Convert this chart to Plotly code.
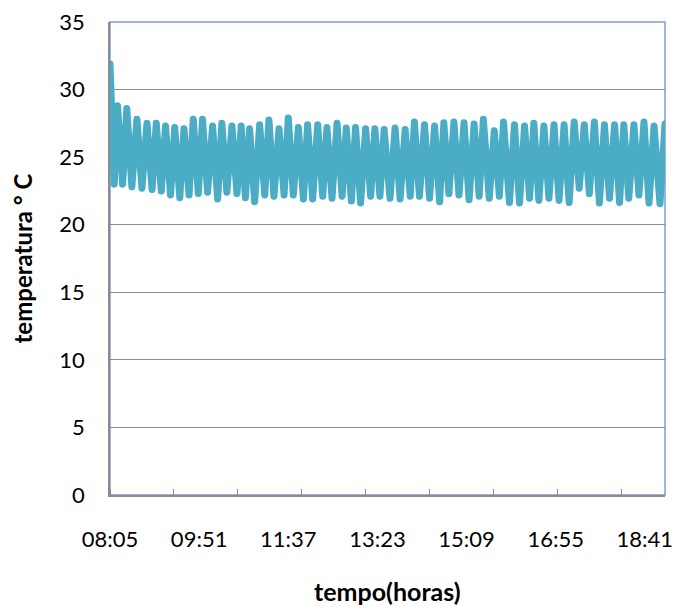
import plotly.graph_objects as go

# ---- data (minutes after 08:05, temperature in °C) ----
peak_times = [0, 9, 20, 32, 44, 55, 66, 77, 88, 99,
              110, 122, 133, 145, 156, 166, 178, 189, 201, 212,
              224, 235, 247, 258, 270, 281, 292, 304, 315, 326,
              339, 351, 362, 374, 386, 397, 409, 421, 433, 444,
              457, 468, 481, 493, 504, 516, 528, 540, 552, 564,
              576, 588, 600, 611, 623, 635, 647, 660]
peak_temps = [31.9, 28.8, 28.6, 27.8, 27.5, 27.5, 27.3, 27.2, 27.1, 27.8,
              27.8, 27.3, 27.5, 27.3, 27.3, 27.1, 27.4, 27.75, 27.1, 27.9,
              27.2, 27.4, 27.4, 27.2, 27.5, 27.15, 27.2, 27.1, 27.1, 27.05,
              27.15, 27.05, 27.6, 27.4, 27.3, 27.55, 27.6, 27.55, 27.45, 27.8,
              26.95, 27.6, 27.4, 27.3, 27.5, 27.3, 27.4, 27.4, 27.6, 27.4,
              27.6, 27.4, 27.4, 27.4, 27.4, 27.6, 27.3, 27.45]
trough_times = [5, 15, 26, 38, 50, 61, 72, 83, 94, 105,
                116, 128, 139, 151, 161, 172, 184, 195, 207, 218,
                230, 241, 253, 264, 276, 287, 298, 310, 321, 333,
                345, 357, 368, 380, 392, 403, 415, 427, 439, 451,
                463, 475, 487, 499, 510, 522, 534, 546, 558, 570,
                582, 594, 606, 617, 629, 641, 654]
trough_temps = [23.0, 23.0, 22.8, 22.7, 22.6, 22.5, 22.2, 22.0, 22.2, 22.3,
                22.4, 21.9, 22.4, 22.3, 22.0, 21.7, 22.2, 22.1, 22.2, 22.2,
                21.9, 21.9, 22.1, 21.95, 22.1, 21.75, 21.6, 22.1, 22.1, 21.95,
                21.9, 22.1, 22.1, 21.95, 21.7, 22.3, 22.2, 21.85, 22.1, 21.95,
                22.1, 21.65, 21.6, 21.95, 21.8, 21.95, 21.8, 21.65, 22.7, 22.3,
                21.6, 21.95, 21.65, 21.95, 22.2, 21.6, 21.55]

x_tick_vals = [0, 106, 212, 318, 424, 530, 636]
x_tick_text = ["08:05", "09:51", "11:37", "13:23", "15:09", "16:55", "18:41"]
x_end = 660
y_title = "temperatura ° C"
x_title = "tempo(horas)"

pts = sorted(list(zip(peak_times, peak_temps)) + list(zip(trough_times, trough_temps)))
xs = [p[0] for p in pts]
ys = [p[1] for p in pts]

fig = go.Figure()
fig.add_trace(go.Scatter(x=xs, y=ys, mode="lines",
                         line=dict(color="#4BACC6", width=7),
                         showlegend=False, hoverinfo="skip"))

FONT = "Lato"
GRID = "#8c8c8c"

fig.update_layout(
    width=679, height=607,
    margin=dict(l=110, r=14, t=22, b=112, autoexpand=False),
    paper_bgcolor="white", plot_bgcolor="white",
    font=dict(family=FONT, size=22, color="#000000"),
    shapes=[dict(type="rect", xref="paper", yref="paper", x0=0, y0=0, x1=1, y1=1,
                 line=dict(color="#7F9FD0", width=1.5), layer="below")],
    annotations=[
        dict(text=f"<b>{y_title}</b>", xref="paper", yref="paper",
             x=-88 / 555, y=0.5, textangle=-90, showarrow=False,
             font=dict(family=FONT, size=24), xanchor="center", yanchor="middle"),
        dict(text=f"<b>{x_title}</b>", xref="paper", yref="paper",
             x=0.5, y=-96 / 473, showarrow=False,
             font=dict(family=FONT, size=25), xanchor="center", yanchor="middle"),
    ],
)

fig.update_xaxes(range=[0, x_end], tickmode="array", tickvals=x_tick_vals,
                 ticktext=x_tick_text, ticks="", showgrid=False, zeroline=False,
                 showline=True, linecolor=GRID, linewidth=1.5, automargin=False,
                 ticklabelstandoff=24,
                 minor=dict(tick0=0, dtick=76, ticks="inside", ticklen=6,
                            tickcolor=GRID, tickwidth=1, showgrid=False))
fig.update_yaxes(range=[0, 35], dtick=5, tick0=0, ticks="", showgrid=True,
                 gridcolor=GRID, gridwidth=1.3, zeroline=False, automargin=False,
                 showline=True, linecolor=GRID, linewidth=1.5,
                 ticklabelstandoff=19)

post = ("var s=document.createElement('style');"
        "s.textContent='.js-line{stroke-linejoin:round !important;stroke-linecap:round !important;}';"
        "document.head.appendChild(s);")
fig.write_html("out.html", post_script=post)
